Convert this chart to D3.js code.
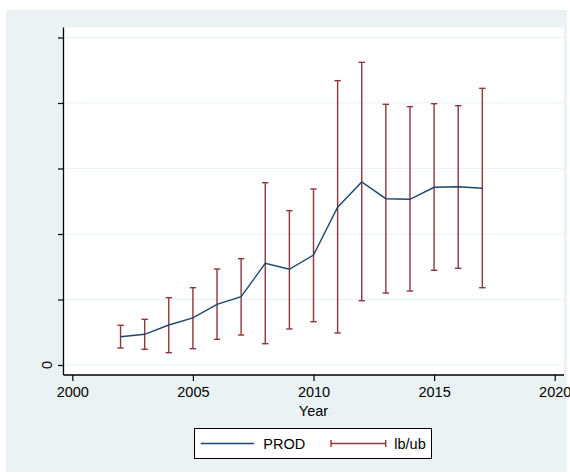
<!DOCTYPE html>
<html>
<head>
<meta charset="utf-8">
<script src="https://cdn.jsdelivr.net/npm/d3@7"></script>
<style>
  html, body { margin: 0; padding: 0; background: #ffffff; }
  svg { display: block; }
  text { font-family: "Liberation Sans", Arial, Helvetica, sans-serif; }
</style>
</head>
<body>
<svg id="chart" width="570" height="474"></svg>
<script>
// ---- data (y in gridline units) ----
const years = [2002, 2003, 2004, 2005, 2006, 2007, 2008, 2009, 2010, 2011, 2012, 2013, 2014, 2015, 2016, 2017];
const prod  = [0.432, 0.469, 0.611, 0.718, 0.927, 1.043, 1.553, 1.461, 1.679, 2.408, 2.794, 2.539, 2.530, 2.713, 2.722, 2.698];
const lb    = [0.260, 0.240, 0.188, 0.249, 0.392, 0.458, 0.325, 0.550, 0.661, 0.489, 0.982, 1.099, 1.130, 1.446, 1.476, 1.180];
const ub    = [0.606, 0.698, 1.028, 1.180, 1.466, 1.623, 2.783, 2.356, 2.687, 4.341, 4.621, 3.980, 3.944, 3.989, 3.959, 4.224];
const xTicks = [2000, 2005, 2010, 2015, 2020];
const yTicks = [0, 1, 2, 3, 4, 5];
const yTickLabels = ["0", "", "", "", "", ""];
const xTitle = "Year";
const legendLabels = ["PROD", "lb/ub"];

const navy = "#1a476f", maroon = "#90353b", bg = "#eaf2f3";

const svg = d3.select("#chart");
// outer background
svg.append("rect").attr("x", 6).attr("y", 10).attr("width", 561).attr("height", 462).attr("fill", bg);

const plot = { left: 63.5, right: 564, top: 27.5, bottom: 375 };
svg.append("rect").attr("x", plot.left).attr("y", plot.top)
   .attr("width", plot.right - plot.left).attr("height", plot.bottom - plot.top).attr("fill", "#ffffff");

const x = d3.scaleLinear().domain([2000, 2020]).range([72.3, 554.7]);
const y = d3.scaleLinear().domain([0, 5]).range([365, 37.5]);

// gridlines
svg.append("g").selectAll("line").data(yTicks).join("line")
  .attr("x1", plot.left).attr("x2", plot.right)
  .attr("y1", d => y(d)).attr("y2", d => y(d))
  .attr("stroke", bg).attr("stroke-width", 1.2);

// y axis
const yAxis = d3.axisLeft(y).tickValues(yTicks).tickSize(5.5).tickPadding(0).tickFormat((d, i) => yTickLabels[i]);
const gy = svg.append("g").attr("transform", `translate(${plot.left},0)`).call(yAxis);
gy.select(".domain").remove();
gy.selectAll(".tick line").attr("stroke", "#000").attr("stroke-width", 1.2);
gy.selectAll(".tick text").remove();
svg.append("line").attr("x1", plot.left).attr("x2", plot.left).attr("y1", plot.top).attr("y2", plot.bottom)
   .attr("stroke", "#000").attr("stroke-width", 1.3);
gy.selectAll(".tick").each(function(d, i) {
  if (yTickLabels[i]) {
    svg.append("text").attr("transform", `translate(52,${y(d)}) rotate(-90)`)
      .attr("text-anchor", "middle").attr("font-size", 14.5).attr("fill", "#000").text(yTickLabels[i]);
  }
});

// x axis
const xAxis = d3.axisBottom(x).tickValues(xTicks).tickSize(6).tickPadding(6).tickFormat(d3.format("d"));
const gx = svg.append("g").attr("transform", `translate(0,${plot.bottom})`).call(xAxis);
gx.select(".domain").remove();
gx.selectAll(".tick line").attr("stroke", "#000").attr("stroke-width", 1.2);
gx.selectAll(".tick text").attr("font-size", 14.5).attr("fill", "#000").attr("font-family", "Liberation Sans, Arial, sans-serif");
svg.append("line").attr("x1", plot.left).attr("x2", plot.right).attr("y1", plot.bottom).attr("y2", plot.bottom)
   .attr("stroke", "#000").attr("stroke-width", 1.3);

svg.append("text").attr("x", 313.5).attr("y", 416).attr("text-anchor", "middle")
   .attr("font-size", 14.5).attr("fill", "#000").text(xTitle);

// error bars
const data = years.map((yr, i) => ({ yr, p: prod[i], lo: lb[i], hi: ub[i] }));
const eb = svg.append("g").attr("stroke", maroon).attr("stroke-width", 1.4).attr("fill", "none");
eb.selectAll("line.v").data(data).join("line").attr("class", "v")
  .attr("x1", d => x(d.yr)).attr("x2", d => x(d.yr)).attr("y1", d => y(d.lo)).attr("y2", d => y(d.hi));
eb.selectAll("line.t").data(data).join("line").attr("class", "t")
  .attr("x1", d => x(d.yr) - 3.2).attr("x2", d => x(d.yr) + 3.2).attr("y1", d => y(d.hi)).attr("y2", d => y(d.hi));
eb.selectAll("line.b").data(data).join("line").attr("class", "b")
  .attr("x1", d => x(d.yr) - 3.2).attr("x2", d => x(d.yr) + 3.2).attr("y1", d => y(d.lo)).attr("y2", d => y(d.lo));

// line
svg.append("path").datum(data)
  .attr("d", d3.line().x(d => x(d.yr)).y(d => y(d.p)))
  .attr("fill", "none").attr("stroke", navy).attr("stroke-width", 1.4);

// legend
const lg = svg.append("g");
lg.append("rect").attr("x", 194.5).attr("y", 428.5).attr("width", 237).attr("height", 30)
  .attr("fill", "#fff").attr("stroke", "#000").attr("stroke-width", 1);
lg.append("line").attr("x1", 200.7).attr("x2", 254).attr("y1", 443.5).attr("y2", 443.5)
  .attr("stroke", navy).attr("stroke-width", 1.4);
lg.append("text").attr("x", 263.3).attr("y", 449).attr("font-size", 14.5).attr("fill", "#000").text(legendLabels[0]);
const eg = lg.append("g").attr("stroke", maroon).attr("stroke-width", 1.4);
eg.append("line").attr("x1", 331).attr("x2", 385.7).attr("y1", 443.5).attr("y2", 443.5);
eg.append("line").attr("x1", 331).attr("x2", 331).attr("y1", 440).attr("y2", 447);
eg.append("line").attr("x1", 385.7).attr("x2", 385.7).attr("y1", 440).attr("y2", 447);
lg.append("text").attr("x", 394.3).attr("y", 449).attr("font-size", 14.5).attr("fill", "#000").text(legendLabels[1]);
</script>
</body>
</html>
